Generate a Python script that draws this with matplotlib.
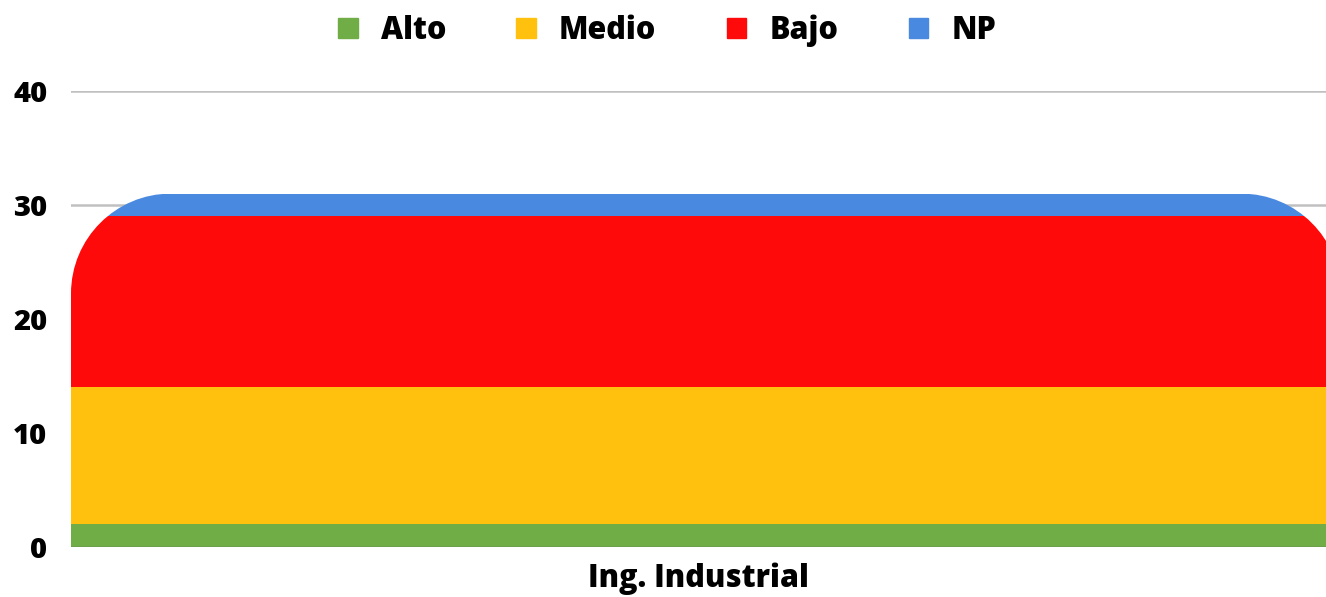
import numpy as np
from matplotlib import pyplot as plt
from matplotlib.path import Path
from matplotlib.patches import PathPatch, Patch

categories = ["Ing. Industrial"]
series_names = ["Alto", "Medio", "Bajo", "NP"]
alto = [2]
medio = [12]
bajo = [15]
np_vals = [2]
yticks = [0, 10, 20, 30, 40]

colors = ["#70AD47", "#FFC10E", "#FF0A0A", "#4A89E0"]


def main() -> None:
    plt.rcParams['font.family'] = ['Open Sans', 'DejaVu Sans']
    fig = plt.figure(figsize=(13.26, 5.97), dpi=100)
    ax = fig.add_axes([71 / 1326, 50 / 597, 1 - 71 / 1326, 456 / 597])

    ax.set_xlim(0, 1)
    ax.set_ylim(0, 40)

    # bar slightly wider than the axes, right end is cut off in the original
    width = 1270 / 1255
    series = [alto, medio, bajo, np_vals]
    bottom = np.zeros(len(categories))
    bars = []
    for vals, color, name in zip(series, colors, series_names):
        b = ax.bar([0], vals, width, bottom=bottom, color=color,
                   align='edge', label=name, zorder=2)
        bars.extend(b.patches)
        bottom = bottom + np.array(vals)

    # rounded top corners for the whole stack
    top = bottom[0]
    rx = 100 / 1255
    ry = 100 * 40 / 456
    k = 0.5523
    x0, x1 = 0, width
    verts = [
        (x0, -5), (x0, top - ry),
        (x0, top - ry + k * ry), (x0 + rx - k * rx, top), (x0 + rx, top),
        (x1 - rx, top),
        (x1 - rx + k * rx, top), (x1, top - ry + k * ry), (x1, top - ry),
        (x1, -5), (x0, -5),
    ]
    codes = [Path.MOVETO, Path.LINETO,
             Path.CURVE4, Path.CURVE4, Path.CURVE4,
             Path.LINETO,
             Path.CURVE4, Path.CURVE4, Path.CURVE4,
             Path.LINETO, Path.CLOSEPOLY]
    clip = PathPatch(Path(verts, codes), transform=ax.transData)
    for p in bars:
        p.set_clip_path(clip)

    # grid
    ax.set_yticks(yticks)
    ax.set_yticklabels([str(t) for t in yticks], fontsize=21, fontweight='heavy')
    for t in yticks[1:]:
        ax.axhline(t, color='#C0C0C0', lw=1.8, zorder=1)
    ax.axhline(0, color='#666666', lw=1.0, zorder=3)
    ax.tick_params(axis='y', length=0, pad=17)

    ax.set_xticks([])
    ax.set_xlabel(categories[0], fontsize=22, fontweight='heavy', labelpad=11)
    for s in ax.spines.values():
        s.set_visible(False)

    handles = [Patch(color=c, label=n) for c, n in zip(colors, series_names)]
    fig.legend(handles=handles, loc='upper center', bbox_to_anchor=(0.503, 1.022),
               ncol=4, frameon=False, prop={'size': 22, 'weight': 'heavy'},
               handlelength=0.65, handleheight=0.65, handletextpad=0.75,
               columnspacing=2.3)

    fig.savefig("out.png", dpi=100)


if __name__ == '__main__':
    main()
